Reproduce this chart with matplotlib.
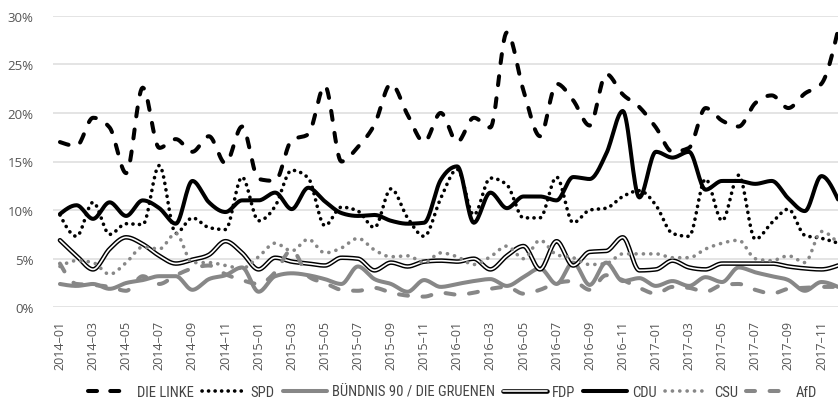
import numpy as np
import matplotlib
matplotlib.use("Agg")
import matplotlib.pyplot as plt
from matplotlib.lines import Line2D
from matplotlib.legend_handler import HandlerTuple
from matplotlib import font_manager

# ---------------- data ----------------
years = [2014, 2015, 2016, 2017]
month_nums = list(range(1, 13))
months = [f"{y}\u2013{m:02d}" for y in years for m in month_nums]

die_linke = [17.0, 16.6, 19.5, 18.5, 13.8, 22.6, 16.4, 17.3, 16.0, 17.6, 14.8, 18.6,
             13.2, 13.0, 17.2, 17.8, 22.8, 15.0, 16.5, 18.8, 23.0, 19.8, 17.0, 20.0,
             17.0, 19.5, 18.5, 28.3, 22.3, 17.6, 23.0, 21.3, 18.7, 24.0, 21.9, 20.6,
             18.5, 16.0, 16.4, 20.5, 19.2, 18.6, 21.0, 21.8, 20.5, 22.0, 23.0, 28.5]
spd = [9.5, 7.3, 10.8, 7.5, 8.6, 8.5, 14.6, 7.6, 9.2, 8.2, 8.0, 13.4,
       8.9, 10.4, 14.1, 13.3, 8.4, 10.3, 9.9, 8.2, 12.2, 9.2, 7.3, 11.2,
       14.2, 9.5, 13.3, 12.6, 9.2, 9.2, 13.4, 8.7, 10.0, 10.2, 11.4, 12.0,
       10.5, 7.6, 7.3, 13.2, 8.9, 13.6, 7.0, 8.7, 10.1, 7.4, 7.1, 6.6]
gruene = [2.4, 2.2, 2.4, 1.9, 2.5, 2.8, 3.2, 3.2, 1.8, 2.9, 3.3, 4.1,
          1.6, 3.2, 3.5, 3.3, 2.9, 2.4, 4.2, 2.9, 2.4, 1.6, 2.8, 2.1,
          2.4, 2.7, 2.9, 2.2, 3.1, 4.0, 2.4, 4.6, 2.3, 4.6, 2.7, 3.0,
          2.2, 2.7, 2.2, 3.1, 2.6, 4.1, 3.6, 3.2, 2.8, 1.7, 2.6, 2.1]
fdp = [6.9, 5.3, 3.9, 6.0, 7.2, 6.5, 5.3, 4.5, 4.9, 5.4, 6.8, 5.6,
       3.9, 5.1, 4.7, 4.5, 4.3, 5.1, 5.0, 3.8, 4.6, 4.2, 4.7, 4.8,
       4.7, 5.0, 3.9, 5.3, 6.3, 3.9, 6.8, 4.3, 5.7, 5.8, 7.2, 3.8,
       3.9, 4.8, 4.1, 3.9, 4.5, 4.5, 4.5, 4.5, 4.2, 4.0, 3.9, 4.3]
cdu = [9.6, 10.5, 9.1, 10.8, 9.4, 11.0, 10.2, 8.6, 13.0, 10.8, 9.8, 11.0,
       11.0, 11.8, 10.1, 12.3, 10.9, 9.7, 9.4, 9.5, 8.9, 8.6, 8.7, 13.1,
       14.5, 8.7, 11.8, 10.2, 11.4, 11.4, 11.0, 13.4, 13.2, 15.8, 20.2, 11.3,
       16.0, 15.4, 16.0, 12.1, 13.0, 13.0, 12.7, 13.0, 11.2, 9.9, 13.5, 11.1]
csu = [4.2, 4.8, 4.6, 3.4, 4.6, 6.2, 6.0, 7.6, 4.6, 4.6, 4.3, 4.0,
       5.2, 6.6, 5.8, 7.0, 5.6, 6.1, 7.1, 5.9, 5.2, 5.3, 4.6, 5.6,
       5.2, 4.4, 5.2, 6.3, 5.0, 6.9, 5.4, 5.1, 4.4, 4.5, 5.5, 5.5,
       5.5, 5.1, 5.1, 6.0, 6.6, 6.9, 5.0, 4.8, 5.3, 4.6, 7.8, 6.6]
afd = [4.5, 2.4, 2.3, 2.1, 1.7, 3.2, 2.4, 3.3, 4.0, 4.3, 3.4, 2.8,
       2.4, 3.6, 5.9, 3.2, 2.5, 1.8, 1.7, 2.0, 1.5, 1.2, 1.1, 1.5,
       1.3, 1.5, 1.9, 2.1, 1.4, 1.8, 2.5, 2.7, 1.8, 3.3, 2.8, 2.0,
       1.4, 2.1, 2.0, 1.6, 2.3, 2.4, 1.8, 1.4, 1.9, 2.0, 2.1, 2.1]

series_names = ["DIE LINKE", "SPD", "BÜNDNIS 90 / DIE GRUENEN", "FDP", "CDU", "CSU", "AfD"]
yticks = [0, 5, 10, 15, 20, 25, 30]
ytick_labels = ["0%", "5%", "10%", "15%", "20%", "25%", "30%"]

# ---------------- helpers ----------------
def monotone_curve(y, n=16):
    """Monotone cubic (Steffen / d3.curveMonotoneX) rendering of a series."""
    y = np.asarray(y, float)
    x = np.arange(len(y), dtype=float)
    d = np.diff(y)
    m = np.zeros_like(y)
    for i in range(1, len(y) - 1):
        s0, s1 = d[i - 1], d[i]
        p = (s0 + s1) / 2
        m[i] = (np.sign(s0) + np.sign(s1)) * min(abs(s0), abs(s1), 0.5 * abs(p))
    m[0] = (3 * d[0] - m[1]) / 2
    m[-1] = (3 * d[-1] - m[-2]) / 2
    xs, ys = [], []
    t = np.linspace(0, 1, n, endpoint=False)
    for i in range(len(y) - 1):
        h00 = 2 * t**3 - 3 * t**2 + 1
        h10 = t**3 - 2 * t**2 + t
        h01 = -2 * t**3 + 3 * t**2
        h11 = t**3 - t**2
        xs.append(x[i] + t)
        ys.append(h00 * y[i] + h10 * m[i] + h01 * y[i + 1] + h11 * m[i + 1])
    xs.append([x[-1]])
    ys.append([y[-1]])
    return np.concatenate(xs), np.concatenate(ys)

def has_font(name):
    try:
        font_manager.findfont(name, fallback_to_default=False)
        return True
    except Exception:
        return False

tick_font = "Open Sans" if has_font("Open Sans") else "DejaVu Sans"
narrow = None
for cand in ["Liberation Sans Narrow", "Roboto Condensed", "Open Sans Condensed",
             "DejaVu Sans Condensed"]:
    if has_font(cand):
        narrow = cand
        break
if narrow is None:
    for f in font_manager.fontManager.ttflist:
        if "Narrow" in f.name or "Condensed" in f.name:
            narrow = f.name
            break
legend_font = narrow if narrow else tick_font
legend_size = 10.5 if narrow else 9.3

plt.rcParams["lines.scale_dashes"] = False
plt.rcParams["font.family"] = [tick_font, "DejaVu Sans"]

BLACK = "#000000"
GRAY = "#878787"

styles = [
    dict(color=BLACK, lw=2.9, dashes=(6.5, 9.5), dash_capstyle="round"),   # DIE LINKE
    dict(color=BLACK, lw=2.6, dashes=(0.1, 4.6), dash_capstyle="round"),   # SPD
    dict(color=GRAY, lw=2.9, solid_capstyle="round"),                      # GRUENE
    None,                                                                   # FDP (double)
    dict(color=BLACK, lw=2.9, solid_capstyle="round"),                     # CDU
    dict(color=GRAY, lw=2.6, dashes=(0.1, 5.2), dash_capstyle="round"),    # CSU
    dict(color=GRAY, lw=2.9, dashes=(6.5, 10.5), dash_capstyle="round"),   # AfD
]
fdp_outer = dict(color=BLACK, lw=3.3, solid_capstyle="round")
fdp_inner = dict(color="white", lw=1.2, solid_capstyle="round")

# ---------------- figure ----------------
W, H = 838, 410
fig = plt.figure(figsize=(W / 100, H / 100), dpi=100)
ax = fig.add_axes([53 / W, 101.7 / H, 785 / W, 291.6 / H])
ax.set_xlim(-0.42, len(months) - 1)
ax.set_ylim(0, 30)

for yv in yticks:
    ax.axhline(yv, color="#dcdcdc", lw=1.1, zorder=0)

all_series = [die_linke, spd, gruene, fdp, cdu, csu, afd]
handles = []
for k, (name, vals) in enumerate(zip(series_names, all_series)):
    xs, ys = monotone_curve(vals)
    if name == "FDP":
        ax.plot(xs, ys, zorder=2 + k, clip_on=False, **fdp_outer)
        ax.plot(xs, ys, zorder=2 + k, clip_on=False, **fdp_inner)
        handles.append((Line2D([], [], **fdp_outer), Line2D([], [], **fdp_inner)))
    else:
        ax.plot(xs, ys, zorder=2 + k, clip_on=False, **styles[k])
        handles.append(Line2D([], [], **styles[k]))

for s in ax.spines.values():
    s.set_visible(False)

ax.set_yticks(yticks)
ax.set_yticklabels(ytick_labels)
xt = list(range(0, len(months), 2))
ax.set_xticks(xt)
ax.set_xticklabels([months[i] for i in xt], rotation=90, va="top", ha="center")
ax.tick_params(axis="y", length=0, pad=14, labelsize=9.5, labelcolor="#555555")
ax.tick_params(axis="x", length=0, pad=9, labelsize=9.0, labelcolor="#555555")

handle_px = 44.0
hl = handle_px * 0.72 / legend_size
leg = fig.legend(handles, series_names, loc="center", bbox_to_anchor=(452 / W, 1 - 393 / H),
                 ncol=7, frameon=False, handlelength=hl, handletextpad=0.35,
                 columnspacing=0.55, borderaxespad=0, borderpad=0,
                 handler_map={tuple: HandlerTuple(ndivide=1, pad=0)},
                 prop={"family": [legend_font, "DejaVu Sans"], "size": legend_size})
for t in leg.get_texts():
    t.set_color("#444444")

fig.savefig("out.png", dpi=100)
